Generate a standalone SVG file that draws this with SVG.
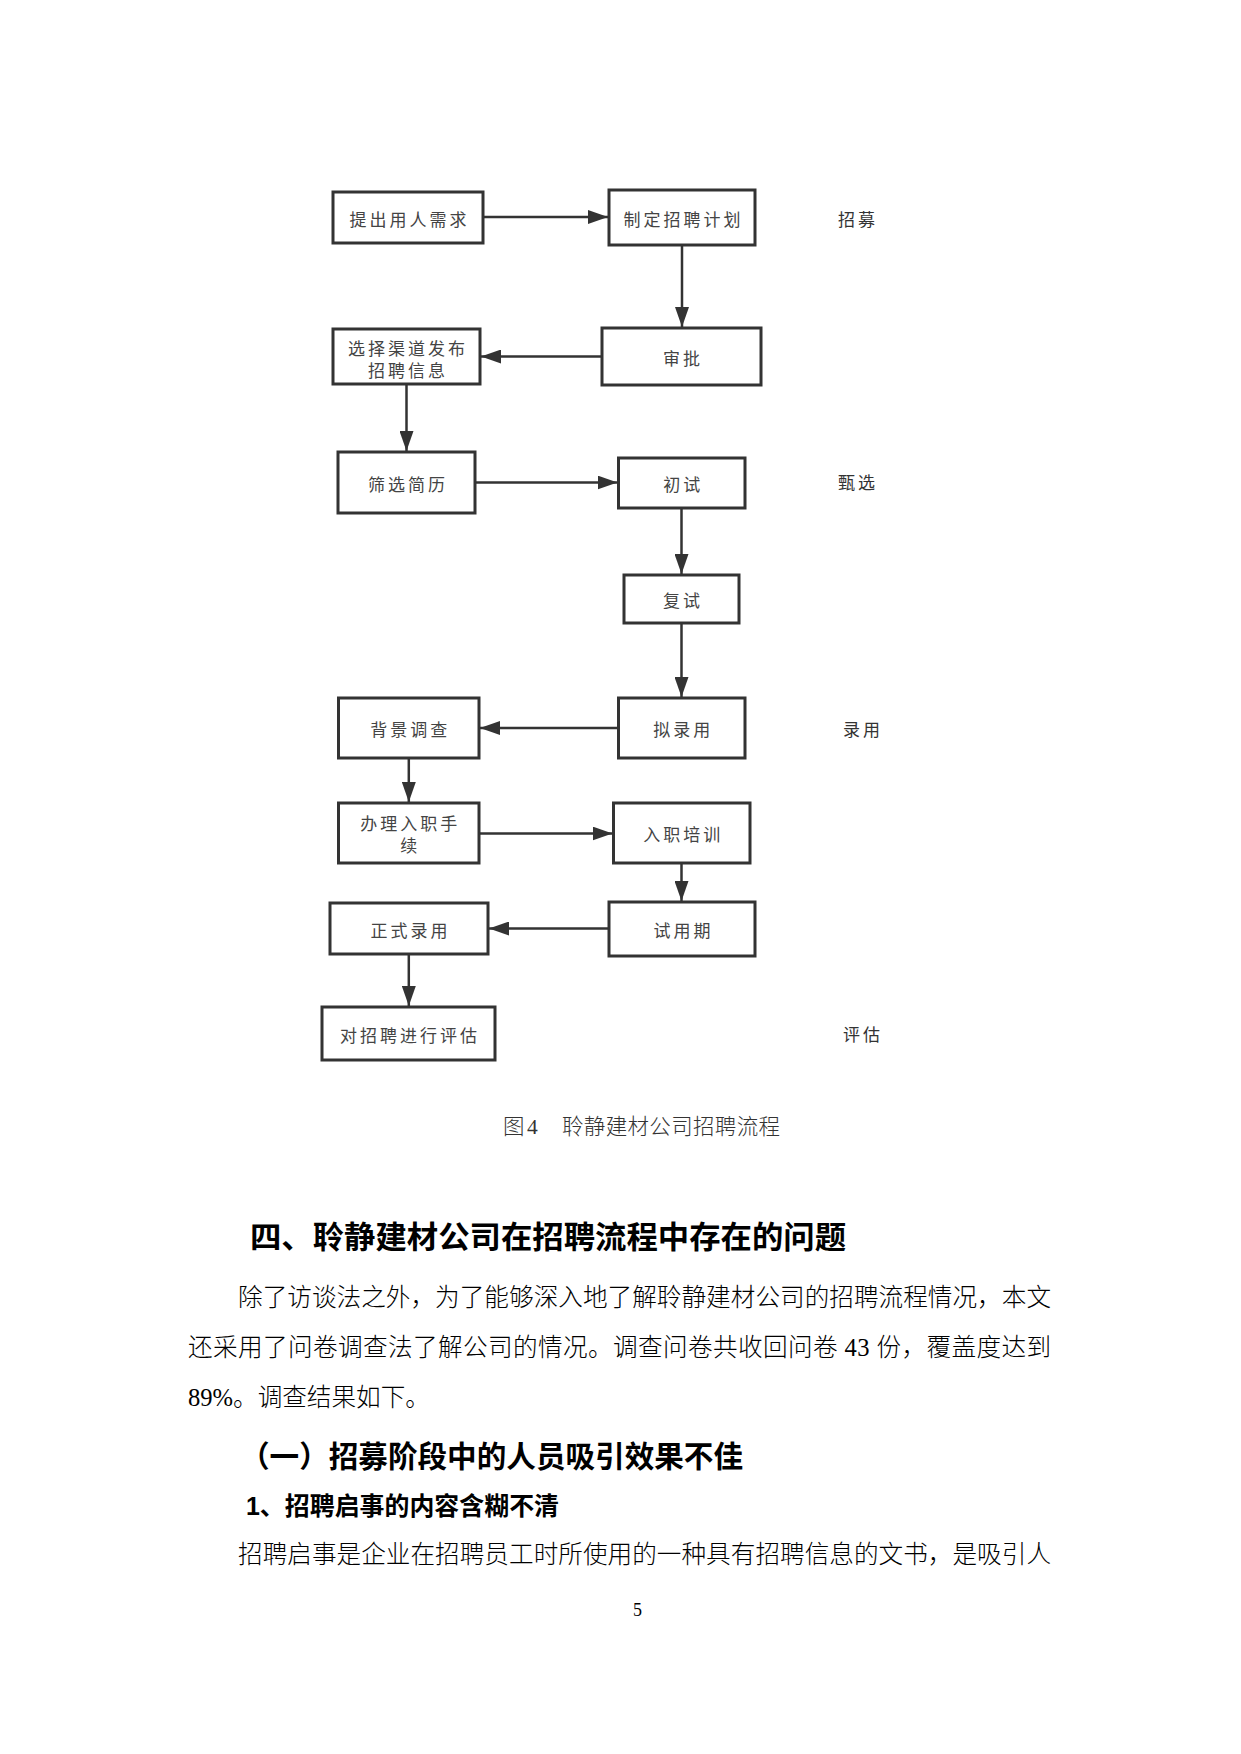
<svg xmlns="http://www.w3.org/2000/svg" width="1241" height="1754" viewBox="0 0 1241 1754">
<style>
.bg{fill:#ffffff}
.box{fill:#ffffff;stroke:#333333;stroke-width:3}
.bt{font-family:"Noto Sans CJK SC",sans-serif;font-size:17px;fill:#444444;letter-spacing:3px;text-anchor:middle}
.lab{font-family:"Noto Sans CJK SC",sans-serif;font-size:17px;fill:#333333;letter-spacing:3px}
.ln{stroke:#333333;stroke-width:2.5;fill:none;marker-end:url(#ah)}
.cap{font-family:"Liberation Serif","Noto Sans CJK SC",serif;font-size:21.5px;fill:#333333;font-weight:300}
.body{font-family:"Liberation Serif","Noto Sans CJK SC",serif;font-size:24.6px;fill:#000000;font-weight:300}
.h1{font-family:"Liberation Sans","Noto Sans CJK SC",sans-serif;font-size:31px;font-weight:bold;fill:#000000}
.h2{font-family:"Liberation Sans","Noto Sans CJK SC",sans-serif;font-size:30px;font-weight:bold;fill:#000000}
.h3{font-family:"Liberation Sans","Noto Sans CJK SC",sans-serif;font-size:25px;font-weight:bold;fill:#000000}
</style>
<defs>
<marker id="ah" viewBox="0 0 20 14" refX="20" refY="7" markerWidth="20" markerHeight="14" markerUnits="userSpaceOnUse" orient="auto">
<path d="M0,0 L20,7 L0,14 Z" fill="#333333"/>
</marker>
</defs>
<rect class="bg" x="0" y="0" width="1241" height="1754"/>

<g id="connectors">
<line class="ln" x1="484" y1="217" x2="608" y2="217"/>
<line class="ln" x1="682" y1="246" x2="682" y2="327"/>
<line class="ln" x1="601" y1="356.5" x2="481" y2="356.5"/>
<line class="ln" x1="406.5" y1="385" x2="406.5" y2="451"/>
<line class="ln" x1="476" y1="482.5" x2="617.5" y2="482.5"/>
<line class="ln" x1="681.5" y1="509" x2="681.5" y2="574"/>
<line class="ln" x1="681.5" y1="624" x2="681.5" y2="697"/>
<line class="ln" x1="617.5" y1="728" x2="480" y2="728"/>
<line class="ln" x1="408.8" y1="759" x2="408.8" y2="802"/>
<line class="ln" x1="480" y1="833.5" x2="612.5" y2="833.5"/>
<line class="ln" x1="681.5" y1="864" x2="681.5" y2="901"/>
<line class="ln" x1="608" y1="928.5" x2="489" y2="928.5"/>
<line class="ln" x1="408.8" y1="955" x2="408.8" y2="1006"/>
</g>

<g id="n1"><rect class="box" x="333" y="192" width="150" height="51"/><text class="bt" x="409.5" y="226">提出用人需求</text></g>
<g id="n2"><rect class="box" x="609" y="190" width="146" height="55"/><text class="bt" x="683.5" y="226">制定招聘计划</text></g>
<g id="n3"><rect class="box" x="602" y="328" width="159" height="57"/><text class="bt" x="683" y="364.5">审批</text></g>
<g id="n4"><rect class="box" x="333" y="329" width="147" height="55"/><text class="bt" x="408" y="354.5"><tspan x="408">选择渠道发布</tspan><tspan x="408" dy="22">招聘信息</tspan></text></g>
<g id="n5"><rect class="box" x="338" y="452" width="137" height="61"/><text class="bt" x="408" y="490.5">筛选简历</text></g>
<g id="n6"><rect class="box" x="618.5" y="458" width="126.5" height="50"/><text class="bt" x="683.2" y="491">初试</text></g>
<g id="n7"><rect class="box" x="624" y="575" width="115" height="48"/><text class="bt" x="683" y="607">复试</text></g>
<g id="n8"><rect class="box" x="618.5" y="698" width="126.5" height="60"/><text class="bt" x="683.2" y="736">拟录用</text></g>
<g id="n9"><rect class="box" x="338.5" y="698" width="140.5" height="60"/><text class="bt" x="410.2" y="736">背景调查</text></g>
<g id="n10"><rect class="box" x="338.5" y="803" width="140.5" height="60"/><text class="bt" x="410.2" y="830"><tspan x="410.2">办理入职手</tspan><tspan x="410.2" dy="22">续</tspan></text></g>
<g id="n11"><rect class="box" x="613.5" y="803" width="136.5" height="60"/><text class="bt" x="683.2" y="841">入职培训</text></g>
<g id="n12"><rect class="box" x="609" y="902" width="146" height="54"/><text class="bt" x="683.5" y="937">试用期</text></g>
<g id="n13"><rect class="box" x="330" y="903" width="158" height="51"/><text class="bt" x="410.5" y="936.5">正式录用</text></g>
<g id="n14"><rect class="box" x="322" y="1007" width="173" height="53"/><text class="bt" x="410" y="1041.5">对招聘进行评估</text></g>

<g id="stage-labels">
<text class="lab" x="838" y="226">招募</text>
<text class="lab" x="838" y="489">甄选</text>
<text class="lab" x="843" y="736">录用</text>
<text class="lab" x="843" y="1041">评估</text>
</g>

<g id="caption">
<text class="cap" x="503" y="1134">图</text>
<text class="cap" x="527" y="1134">4</text>
<text class="cap" x="562" y="1134" textLength="218" lengthAdjust="spacing">聆静建材公司招聘流程</text>
</g>

<g id="page-text">
<text class="h1" x="250" y="1248" textLength="596" lengthAdjust="spacingAndGlyphs">四、聆静建材公司在招聘流程中存在的问题</text>
<text class="body" x="238" y="1306" textLength="813" lengthAdjust="spacing">除了访谈法之外，为了能够深入地了解聆静建材公司的招聘流程情况，本文</text>
<text class="body" x="188" y="1356" textLength="863" lengthAdjust="spacing">还采用了问卷调查法了解公司的情况。调查问卷共收回问卷 43 份，覆盖度达到</text>
<text class="body" x="188" y="1406">89%。调查结果如下。</text>
<text class="h2" x="240" y="1467" textLength="503" lengthAdjust="spacingAndGlyphs">（一）招募阶段中的人员吸引效果不佳</text>
<text class="h3" x="246" y="1515" textLength="313" lengthAdjust="spacingAndGlyphs">1、招聘启事的内容含糊不清</text>
<text class="body" x="238" y="1563" textLength="813" lengthAdjust="spacing">招聘启事是企业在招聘员工时所使用的一种具有招聘信息的文书，是吸引人</text>
<text class="body" x="633" y="1616" style="font-size:18px">5</text>
</g>
</svg>
